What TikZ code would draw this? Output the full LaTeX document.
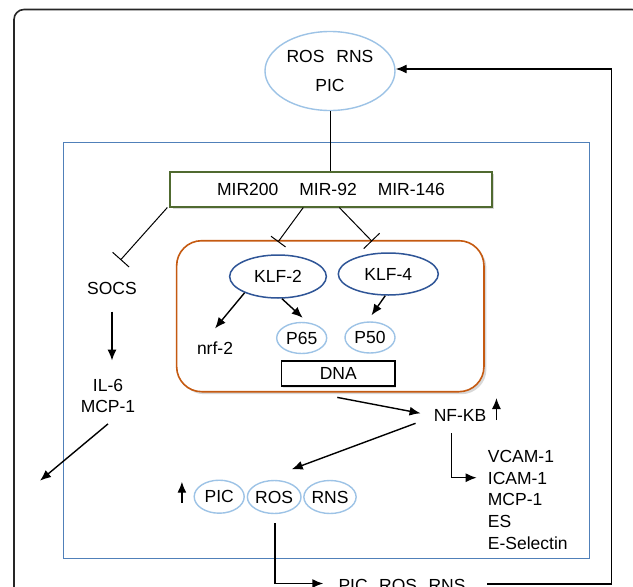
\documentclass[tikz,border=0pt]{standalone}
\usepackage{fontspec}
\setmainfont{Liberation Sans}
\usetikzlibrary{arrows.meta,shapes.geometric,shadows,calc}
\definecolor{lblue}{RGB}{157,195,230}
\definecolor{sblue}{RGB}{80,128,185}
\definecolor{mgreen}{RGB}{80,106,48}
\definecolor{orng}{RGB}{197,90,17}
\definecolor{dblue}{RGB}{47,85,151}
\begin{document}
\begin{tikzpicture}[x=1pt,y=-1pt,
  every node/.style={font=\fontsize{17.5}{21}\selectfont, inner sep=0pt},
  lell/.style={ellipse, draw=lblue, line width=1.4pt, fill=white},
  kell/.style={ellipse, draw=dblue, line width=1.5pt, fill=white},
  thinline/.style={line width=1pt},
  tbar/.style={line width=1pt, -{Bar[width=#1,line width=1pt]}},
  arr/.style={line width=1.4pt, -{Latex[length=11pt,width=9pt]}},
  softshadow/.style={drop shadow={shadow xshift=2.5pt, shadow yshift=-2.5pt, opacity=0.25, fill=black!60}}
]
\useasboundingbox (0,0) rectangle (633,587);
\clip (0,0) rectangle (633,587);
\fill[white] (0,0) rectangle (633,587);

% outer frame
\draw[line width=1.6pt, draw=black!85, rounded corners=10pt] (14,9.5) rectangle (642,640);
% cell
\draw[sblue, line width=1.4pt] (63.3,142.3) rectangle (589.3,558.3);

% top ellipse
\node[lell, minimum width=130pt, minimum height=79pt, align=center,
      font=\fontsize{17.5}{29}\selectfont] (top) at (330,71) {ROS\hspace{12pt}RNS\\PIC};

% miRNA box
\node[draw=mgreen, line width=1.6pt, fill=white, minimum width=321.7pt, minimum height=35pt, softshadow]
  (mir) at (331,189.2) {MIR200\hspace{21pt}MIR-92\hspace{21pt}MIR-146};

\draw[thinline] (top.south) -- (top.south |- mir.north);

% nucleus box
\node[draw=orng, line width=1.6pt, fill=white, rounded corners=25pt, minimum width=307.3pt,
      minimum height=151pt, softshadow] (nuc) at (330.3,316.2) {};

% nodes in nucleus
\node[kell, minimum width=96.7pt, minimum height=43pt] (k2) at (278,276.5) {KLF-2};
\node[kell, minimum width=100pt, minimum height=42pt] (k4) at (388.3,274) {KLF-4};
\node[lell, minimum width=50pt, minimum height=31pt] (p65) at (301.7,338) {P65};
\node[lell, minimum width=50pt, minimum height=31pt] (p50) at (370,337.5) {P50};
\node (nrf) at (215,348) {nrf-2};
\node[draw=black, line width=1.4pt, fill=white, minimum width=113.3pt, minimum height=25pt,
      drop shadow={shadow xshift=1.5pt, shadow yshift=-1.5pt, opacity=0.2}] (dna) at (338.3,373.5) {DNA};

% inhibition lines
\coordinate (sb) at (120.5,260);
\coordinate (kb2) at (278,242);
\coordinate (kb4) at (372,241.3);
\draw[tbar=22pt] ($(mir.south west)+(-2,0)$) -- (sb);
\draw[tbar=18pt] ($(mir.south)+(-27.7,0)$) -- (kb2);
\draw[tbar=22pt] ($(mir.south)+(8.3,0)$) -- (kb4);

% arrows inside nucleus
\draw[arr] (k2.206) -- ($(nrf.north)+(0,-13)$);
\draw[arr] (k2.280) -- ($(p65.north)+(1,-4)$);
\draw[arr] (k4.262) -- ($(p50.north)+(1.5,-6)$);

% left side
\node (socs) at (112,288.3) {SOCS};
\node[align=center] (il6) at (108,395.5) {IL-6\\MCP-1};
\coordinate (out1) at (40,480.7);
\draw[arr] ($(socs.south)+(0,17)$) -- ($(socs.south |- il6.north)+(0,-18)$);
\draw[arr] ($(il6.south)+(0,11.5)$) -- (out1);

% NF-KB
\node (nfkb) at (460,415) {NF-KB};
\draw[arr] ($(dna.south)+(-1,10.7)$) -- ($(nfkb.west)+(-13,-1.7)$);
\draw[arr] ($(nfkb.east)+(10,5)$) -- ++(0,-22);

% PIC ROS RNS ellipses
\node[lell, minimum width=50pt, minimum height=33pt] (pic) at (219.2,496.7) {PIC};
\node[lell, minimum width=48.5pt, minimum height=33pt] (ros) at (274.2,497) {ROS};
\node[lell, minimum width=50pt, minimum height=33pt] (rns) at (330,497) {RNS};
\draw[arr] ($(nfkb.west)+(-18,8.3)$) -- ($(ros.north)+(17.5,-10.5)$);
\draw[arr] ($(pic.west)+(-11.6,6)$) -- ++(0,-21);

% adhesion molecules
\node[align=left, anchor=west, font=\fontsize{17.5}{21.8}\selectfont] (vcam) at (487.7,499.8)
  {VCAM-1\\ICAM-1\\MCP-1\\ES\\E-Selectin};
\draw[arr] ($(nfkb.south)+(-8.3,12)$) |- ($(vcam.west)+(-11,-22.1)$);

% bottom output and feedback
\node[anchor=base west] (bot) at (338.3,591.8) {PIC\hspace{11.5pt}ROS\hspace{11.5pt}RNS};
\coordinate (bl) at (323.3,583.5);
\draw[arr] ($(ros.south)+(0.8,9)$) |- (bl);
\coordinate (rc) at (611.3,583.8);
\draw[arr] ($(bot.east |- rc)+(21.7,0)$) -- (rc) |- ($(top.east)+(0,-2)$);
\end{tikzpicture}
\end{document}
